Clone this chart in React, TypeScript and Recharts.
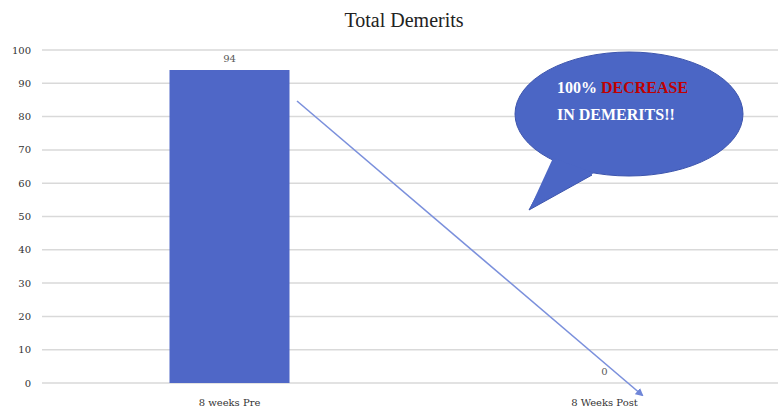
import React from "react";
import { BarChart, Bar, XAxis, YAxis, CartesianGrid, LabelList, ReferenceDot } from "recharts";

const categories = ["8 weeks Pre", "8 Weeks Post"];
const demerits = [94, 0];
const yTicks = [0, 10, 20, 30, 40, 50, 60, 70, 80, 90, 100];

const data = categories.map((c, i) => ({ name: c, value: demerits[i] }));

const tickFont = { fontFamily: "DejaVu Serif, serif", fontSize: 10, fill: "#333333" };
const labelFont = { fontFamily: "DejaVu Serif, serif", fontSize: 10, fill: "#595959" };

export default function App() {
  return (
    <div style={{ position: "absolute", left: 0, top: 0, width: 778, height: 412, overflow: "hidden", background: "#fff" }}>
      <div
        style={{
          position: "absolute",
          left: 0,
          top: 7,
          width: 808,
          textAlign: "center",
          fontFamily: "Liberation Serif, serif",
          fontSize: 20,
          color: "#222",
          lineHeight: "26px",
        }}
      >
        Total Demerits
      </div>
      <div style={{ position: "absolute", left: 0, top: 0 }}>
        <BarChart
          width={800}
          height={412}
          data={data}
          margin={{ top: 50, right: 8, bottom: 0, left: 0 }}
          barCategoryGap="34%"
        >
          <CartesianGrid vertical={false} stroke="#d9d9d9" strokeWidth={1.5} />
          <XAxis
            dataKey="name"
            axisLine={false}
            tickLine={false}
            tickSize={0}
            tickMargin={16}
            tick={tickFont}
            height={29}
          />
          <YAxis
            domain={[0, 100]}
            ticks={yTicks}
            axisLine={false}
            tickLine={false}
            tickSize={0}
            tickMargin={11}
            width={42}
            tick={tickFont}
            interval={0}
          />
          <Bar dataKey="value" fill="#4f67c7" isAnimationActive={false}>
            <LabelList dataKey="value" position="top" offset={8} style={labelFont} />
          </Bar>
          {data
            .filter((d) => d.value === 0)
            .map((d) => (
              <ReferenceDot
                key={d.name}
                x={d.name}
                y={d.value}
                r={0}
                fill="none"
                stroke="none"
                label={{ value: String(d.value), position: "top", offset: 8, style: labelFont }}
              />
            ))}
        </BarChart>
      </div>
      <svg width={778} height={412} style={{ position: "absolute", left: 0, top: 0, pointerEvents: "none" }}>
        <defs>
          <marker id="ah" markerWidth="8" markerHeight="8" refX="6" refY="4" orient="auto" markerUnits="userSpaceOnUse">
            <path d="M0,0 L8,4 L0,8 Z" fill="#6f86d8" />
          </marker>
        </defs>
        <line x1={297} y1={101} x2={642} y2={395} stroke="#7b90dc" strokeWidth={1.6} markerEnd="url(#ah)" />
        <path d="M 556 160 L 529 210 L 592 175 Z" fill="#4b66c5" stroke="#3d55ad" strokeWidth={1} />
        <ellipse cx={629} cy={114} rx={114} ry={62} fill="#4b66c5" stroke="#3d55ad" strokeWidth={1} />
        <path d="M 553 158 L 531 206 L 594 173" fill="#4b66c5" stroke="none" />
        <text x={557} y={93} fontFamily="Liberation Serif, serif" fontWeight="bold" fontSize={16} fill="#ffffff">
          100% <tspan fill="#c00000">DECREASE</tspan>
        </text>
        <text x={557} y={120} fontFamily="Liberation Serif, serif" fontWeight="bold" fontSize={16} fill="#ffffff">
          IN DEMERITS!!
        </text>
      </svg>
    </div>
  );
}
